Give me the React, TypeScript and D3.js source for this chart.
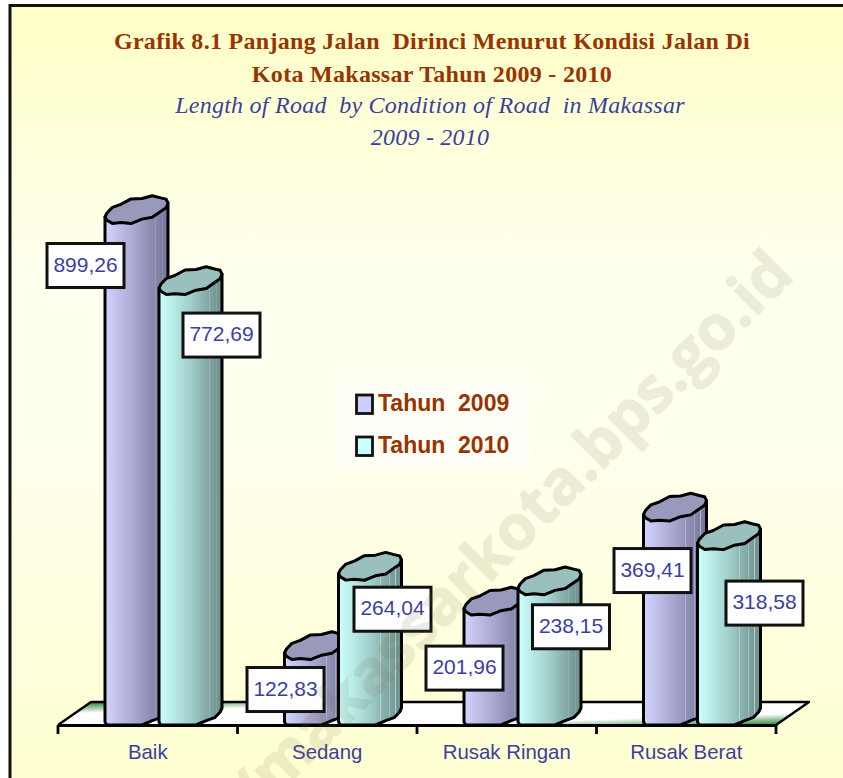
import React from "react";
import * as d3 from "d3";

const categories = ["Baik", "Sedang", "Rusak Ringan", "Rusak Berat"];
const seriesNames = ["Tahun 2009", "Tahun 2010"];
const values2009 = [899.26, 122.83, 201.96, 369.41];
const values2010 = [772.69, 264.04, 238.15, 318.58];
const labels2009 = ["899,26", "122,83", "201,96", "369,41"];
const labels2010 = ["772,69", "264,04", "238,15", "318,58"];

// label boxes were dragged by hand in the original, offsets from bar left / bar top
const labelNudge2009 = [[-19.5, 55.5], [1, 43.5], [0.5, 66.5], [9, 63]];
const labelNudge2010 = [[62.5, 54], [54, 42.5], [53, 45.5], [67, 67]];

const titleLines = [
  "Grafik 8.1 Panjang Jalan  Dirinci Menurut Kondisi Jalan Di",
  "Kota Makassar Tahun 2009 - 2010",
];
const subtitleLines = ["Length of Road  by Condition of Road  in Makassar", "2009 - 2010"];
const watermark = "/makassarkota.bps.go.id";

const BLUE = "#3b3f9f";
const BROWN = "#993300";
const SERIF = "'Liberation Serif', serif";
const SANS = "'Liberation Sans', sans-serif";

const palette = [
  { key: "a", top: "#9999bb", swatch: "#ccccff", light: "#d0d0fb", mid: "#a4a4cc", dark: "#77779a", streak: "#b9b9d4" },
  { key: "b", top: "#99c0bc", swatch: "#ccffff", light: "#c8fdf9", mid: "#a2cfcb", dark: "#6f8f8c", streak: "#b4d6d2" },
];

const App = () => {
  const svgRef = React.useRef<SVGSVGElement>(null);
  const width = 843;
  const height = 778;

  React.useEffect(() => {
    const svg = d3.select(svgRef.current);
    svg.selectAll("*").remove();
    const defs = svg.append("defs");

    const gradient = (id: string, stops: [number, string][], vertical = false) => {
      const g = defs
        .append("linearGradient")
        .attr("id", id)
        .attr("x1", 0)
        .attr("y1", 0)
        .attr("x2", vertical ? 0 : 1)
        .attr("y2", vertical ? 1 : 0);
      stops.forEach(([o, c]) => g.append("stop").attr("offset", o).attr("stop-color", c));
      return g;
    };

    gradient(
      "bg",
      [
        [0, "#ffffc6"],
        [0.35, "#fffff0"],
        [0.55, "#ffffee"],
        [1, "#ffffd0"],
      ],
      true
    );
    palette.forEach((p) => {
      const shade = d3.interpolateRgb(p.mid, p.dark);
      gradient(`body-${p.key}`, [
        [0, p.light],
        [0.04, p.light],
        [0.5, p.mid],
        [0.66, shade(0.35)],
        [0.665, p.streak],
        [0.675, shade(0.4)],
        [0.8, shade(0.65)],
        [0.805, p.streak],
        [0.815, shade(0.68)],
        [0.9, shade(0.85)],
        [0.905, p.streak],
        [0.915, shade(0.88)],
        [1, p.dark],
      ]);
    });
    const floorGrad = defs
      .append("linearGradient")
      .attr("id", "floor")
      .attr("x1", 0)
      .attr("y1", 0)
      .attr("x2", 1)
      .attr("y2", 1);
    [
      [0, "#0f6a1e"],
      [0.08, "#5fa268"],
      [0.26, "#ffffff"],
      [0.74, "#ffffff"],
      [0.92, "#5fa268"],
      [1, "#0f6a1e"],
    ].forEach(([o, c]) => floorGrad.append("stop").attr("offset", o).attr("stop-color", c));

    svg.append("rect").attr("x", 10).attr("y", 5.5).attr("width", width + 10).attr("height", height + 10)
      .attr("fill", "url(#bg)").attr("stroke", "#111").attr("stroke-width", 3);

    // scales
    const x0 = d3.scaleBand().domain(categories).range([58, 776]);
    const x1 = d3.scaleBand().domain(seriesNames).range([47, 155]);
    const y = d3.scaleLinear().domain([0, 900]).range([715, 209.6]);
    const baseY = 725;
    const barW = 63;
    const shear = 7;
    const ry = 11.5;

    // floor
    const floorDepth = 23;
    const floorSkew = 33;
    const floor = d3.line();
    svg
      .append("path")
      .attr(
        "d",
        floor([
          [x0.range()[0], baseY],
          [x0.range()[0] + floorSkew, baseY - floorDepth],
          [x0.range()[1] + floorSkew, baseY - floorDepth],
          [x0.range()[1], baseY],
        ])
      )
      .attr("fill", "url(#floor)")
      .attr("stroke", "#000")
      .attr("stroke-width", 2.4)
      .attr("stroke-linejoin", "round");

    // axis, ticks sit on band edges
    const axisG = svg
      .append("g")
      .attr("transform", `translate(0,${baseY})`)
      .call(d3.axisBottom(x0).tickSize(0).tickPadding(20));
    axisG.select(".domain").attr("stroke", "#000").attr("stroke-width", 2.8);
    axisG
      .selectAll("text")
      .attr("font-family", SANS)
      .attr("font-size", 20.4)
      .attr("fill", BLUE);
    const edges = [...categories.map((c) => x0(c) as number), x0.range()[1]];
    axisG
      .selectAll("line.edge")
      .data(edges)
      .join("line")
      .attr("class", "edge")
      .attr("x1", (d) => d)
      .attr("x2", (d) => d)
      .attr("y1", 0)
      .attr("y2", 9)
      .attr("stroke", "#000")
      .attr("stroke-width", 2.8);

    // low-poly rim of the cylinder, every other vertex pushed out for the stepped edge
    const rimCount = 18;
    const rimAngles = d3.range(0, rimCount).map((i) => (i / rimCount) * 2 * Math.PI);
    const rimPoint = (cx: number, cy: number, t: number, bump = 0): [number, number] => [
      cx + (barW / 2) * Math.cos(t),
      cy + (ry + bump) * Math.sin(t) - shear * Math.cos(t),
    ];
    const linePath = d3.line().curve(d3.curveLinear);

    const series = [
      { name: seriesNames[0], values: values2009, labels: labels2009, nudge: labelNudge2009, p: palette[0] },
      { name: seriesNames[1], values: values2010, labels: labels2010, nudge: labelNudge2010, p: palette[1] },
    ];

    categories.forEach((cat, ci) => {
      series.forEach((s) => {
        const left = (x0(cat) as number) + (x1(s.name) as number);
        const cx = left + barW / 2;
        const topY = y(s.values[ci]);
        const bottomY = y(0);
        const front = d3
          .range(0, 10)
          .map((i) => rimPoint(cx, bottomY, Math.PI - (i / 9) * Math.PI, i % 2 ? 1 : -1))
          .map(([px, py]) => [px, Math.min(py, baseY)] as [number, number]);
        const body = [rimPoint(cx, topY, Math.PI), ...front, rimPoint(cx, topY, 0)];
        const g = svg.append("g");
        g.append("path")
          .attr("d", linePath(body) + "Z")
          .attr("fill", `url(#body-${s.p.key})`)
          .attr("stroke", "#000")
          .attr("stroke-width", 3)
          .attr("stroke-linejoin", "round");
        g.append("path")
          .attr("d", linePath(rimAngles.map((t, i) => rimPoint(cx, topY, t, i % 2 ? 1 : -1))) + "Z")
          .attr("fill", s.p.top)
          .attr("stroke", "#000")
          .attr("stroke-width", 3)
          .attr("stroke-linejoin", "round");
      });
    });

    // value labels
    const boxW = 77;
    const boxH = 44;
    categories.forEach((cat, ci) => {
      series.forEach((s) => {
        const left = (x0(cat) as number) + (x1(s.name) as number);
        const lx = left + s.nudge[ci][0];
        const ly = y(s.values[ci]) + s.nudge[ci][1];
        svg
          .append("rect")
          .attr("x", lx - boxW / 2)
          .attr("y", ly - boxH / 2)
          .attr("width", boxW)
          .attr("height", boxH)
          .attr("fill", "#fff")
          .attr("stroke", "#111")
          .attr("stroke-width", 3);
        svg
          .append("text")
          .attr("x", lx)
          .attr("y", ly + 6)
          .attr("text-anchor", "middle")
          .attr("font-family", SANS)
          .attr("font-size", 21)
          .attr("fill", BLUE)
          .text(s.labels[ci]);
      });
    });

    // legend
    const legend = svg.append("g");
    legend.append("rect").attr("x", 335).attr("y", 383).attr("width", 195).attr("height", 84).attr("fill", "#fffff8");
    const legendY = d3.scalePoint().domain(seriesNames).range([404, 446]);
    series.forEach((s) => {
      const ly = legendY(s.name) as number;
      legend
        .append("rect")
        .attr("x", 356.5)
        .attr("y", ly - 9)
        .attr("width", 16)
        .attr("height", 18.5)
        .attr("fill", s.p.swatch)
        .attr("stroke", "#111")
        .attr("stroke-width", 2.8);
      legend
        .append("text")
        .attr("x", 378)
        .attr("y", ly + 7)
        .attr("font-family", SANS)
        .attr("font-weight", "bold")
        .attr("font-size", 23)
        .attr("fill", BROWN)
        .style("white-space", "pre")
        .text(s.name.replace(" ", "  "));
    });

    // titles
    const titleY = [49, 82];
    titleLines.forEach((t, i) => {
      svg
        .append("text")
        .attr("x", 432)
        .attr("y", titleY[i])
        .attr("text-anchor", "middle")
        .attr("font-family", SERIF)
        .attr("font-weight", "bold")
        .attr("font-size", 24)
        .attr("letter-spacing", 0.3)
        .attr("fill", BROWN)
        .style("white-space", "pre")
        .text(t);
    });
    const subY = [113, 145];
    subtitleLines.forEach((t, i) => {
      svg
        .append("text")
        .attr("x", 430)
        .attr("y", subY[i])
        .attr("text-anchor", "middle")
        .attr("font-family", SERIF)
        .attr("font-style", "italic")
        .attr("font-size", 24)
        .attr("letter-spacing", 0.25)
        .attr("fill", BLUE)
        .style("white-space", "pre")
        .text(t);
    });

    // site watermark over everything
    svg
      .append("g")
      .attr("opacity", 0.12)
      .append("text")
      .attr("transform", "translate(796,277) rotate(-45)")
      .attr("text-anchor", "end")
      .attr("font-family", "'Open Sans', sans-serif")
      .attr("font-weight", "bold")
      .attr("font-size", 62)
      .attr("fill", "#6b6b40")
      .attr("stroke", "#6b6b40")
      .attr("stroke-width", 1.2)
      .text(watermark);
  }, []);

  return (
    <svg
      ref={svgRef}
      width={width}
      height={height}
      viewBox={`0 0 ${width} ${height}`}
      style={{ position: "absolute", left: 0, top: 0 }}
    />
  );
};

export default App;
